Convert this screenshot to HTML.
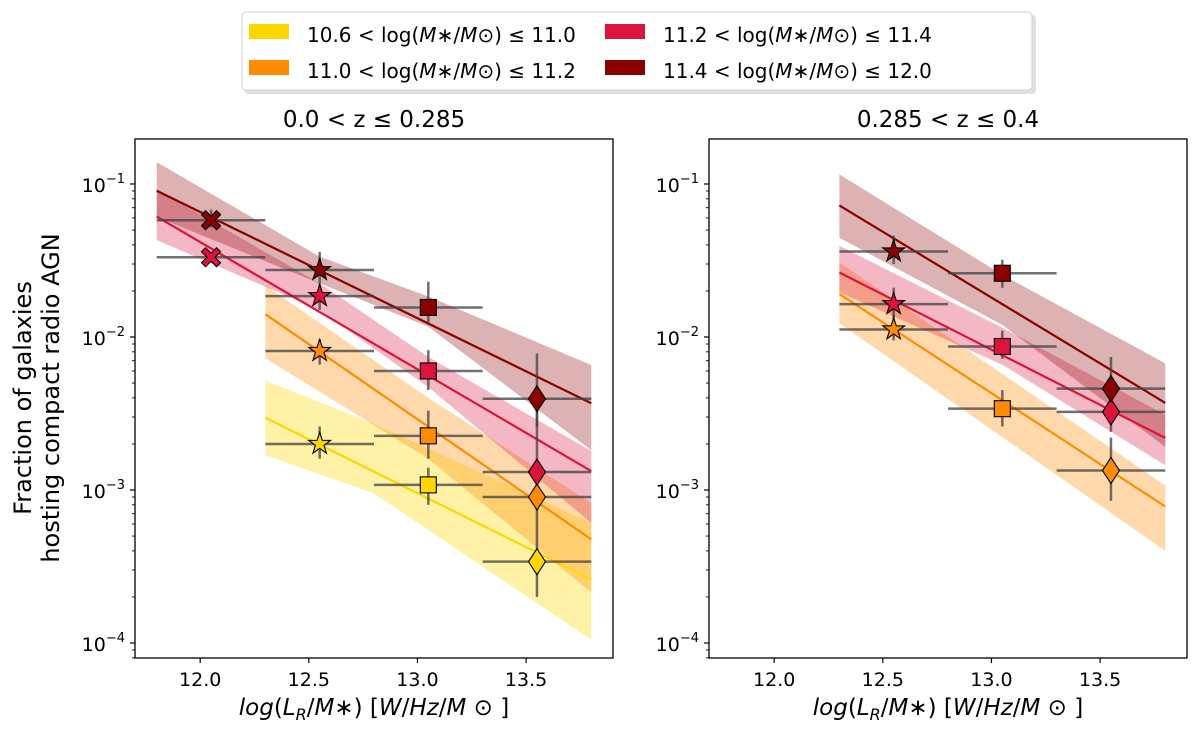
<!DOCTYPE html>
<html><head><meta charset="utf-8">
<style>
body{margin:0;background:#fff;}
svg text{font-family:"DejaVu Sans","Liberation Sans",sans-serif;fill:#000;}
</style></head>
<body>
<svg id="chart" width="1200" height="738" xmlns="http://www.w3.org/2000/svg">
<g id="legend">
  <rect x="244" y="15" width="792" height="79" rx="4" fill="#ccc" opacity="0.6"/>
  <rect x="242" y="12" width="790" height="78" rx="4" fill="#fff" stroke="#d0d0d0"/>
  <g><rect x="249" y="24" width="40" height="15" fill="#FFD700"/><text x="307" y="42" font-size="20">10.6 &lt; log(<tspan font-style="italic">M</tspan>∗/<tspan font-style="italic">M</tspan>⊙) ≤ 11.0</text></g>
  <g><rect x="249" y="60" width="40" height="15" fill="#FF8C00"/><text x="307" y="78" font-size="20">11.0 &lt; log(<tspan font-style="italic">M</tspan>∗/<tspan font-style="italic">M</tspan>⊙) ≤ 11.2</text></g>
  <g><rect x="605" y="24" width="40" height="15" fill="#DC143C"/><text x="663" y="42" font-size="20">11.2 &lt; log(<tspan font-style="italic">M</tspan>∗/<tspan font-style="italic">M</tspan>⊙) ≤ 11.4</text></g>
  <g><rect x="605" y="60" width="40" height="15" fill="#8B0000"/><text x="663" y="78" font-size="20">11.4 &lt; log(<tspan font-style="italic">M</tspan>∗/<tspan font-style="italic">M</tspan>⊙) ≤ 12.0</text></g>
</g>
<text transform="translate(31,398) rotate(-90)" text-anchor="middle" font-size="24">Fraction of galaxies</text>
<text transform="translate(59,398) rotate(-90)" text-anchor="middle" font-size="24">hosting compact radio AGN</text>
</svg>
<script>
const pointX = [12.05, 12.55, 13.05, 13.55];
const markerShapes = ['x', 'star', 'square', 'diamond'];
const colors = {yellow:'#FFD700', orange:'#FF8C00', crimson:'#DC143C', darkred:'#8B0000'};

// LEFT PANEL (0.0 < z <= 0.285)
const L_yellow_vals = [null, 0.0020, 0.00108, 0.00034];
const L_yellow_lo   = [null, 0.0016, 0.0008, 0.0002];
const L_yellow_hi   = [null, 0.0026, 0.0014, 0.0005];
const L_orange_vals = [null, 0.0081, 0.00226, 0.00090];
const L_orange_lo   = [null, 0.0066, 0.0016, 0.0005];
const L_orange_hi   = [null, 0.0097, 0.0033, 0.0013];
const L_crimson_vals = [0.0332, 0.0185, 0.0060, 0.00131];
const L_crimson_lo   = [0.031, 0.015, 0.0045, 0.0009];
const L_crimson_hi   = [0.036, 0.023, 0.0082, 0.0040];
const L_darkred_vals = [0.058, 0.0274, 0.0156, 0.00395];
const L_darkred_lo   = [0.052, 0.023, 0.0125, 0.0026];
const L_darkred_hi   = [0.068, 0.036, 0.023, 0.0078];
// fit lines (endpoints) and bands
const L_yellow_lineX = [12.3, 13.8];
const L_yellow_line  = [0.00297, 0.00026];
const L_yellow_bandX = [12.3, 12.8, 13.8];
const L_yellow_bandLo = [0.00169, 0.00095, 0.000105];
const L_yellow_bandHi = [0.0052, 0.0027, 0.00061];
const L_orange_lineX = [12.3, 13.8];
const L_orange_line  = [0.0141, 0.000476];
const L_orange_bandX = [12.3, 13.05, 13.8];
const L_orange_bandLo = [0.00726, 0.0016, 0.000214];
const L_orange_bandHi = [0.0217, 0.0040, 0.00082];
const L_crimson_lineX = [11.8, 13.8];
const L_crimson_line  = [0.0612, 0.00133];
const L_crimson_bandX = [11.8, 12.55, 13.05, 13.8];
const L_crimson_bandLo = [0.043, 0.015, 0.0047, 0.00061];
const L_crimson_bandHi = [0.092, 0.0224, 0.0074, 0.0018];
const L_darkred_lineX = [11.8, 13.8];
const L_darkred_line  = [0.0904, 0.00369];
const L_darkred_bandX = [11.8, 12.55, 13.05, 13.8];
const L_darkred_bandLo = [0.061, 0.0224, 0.0117, 0.00182];
const L_darkred_bandHi = [0.139, 0.0335, 0.0184, 0.00656];

// RIGHT PANEL (0.285 < z <= 0.4)
const R_orange_vals = [null, 0.0112, 0.0034, 0.00134];
const R_orange_lo   = [null, 0.0095, 0.0026, 0.00085];
const R_orange_hi   = [null, 0.014, 0.0045, 0.0022];
const R_crimson_vals = [null, 0.0164, 0.00867, 0.00324];
const R_crimson_lo   = [null, 0.0135, 0.0072, 0.0024];
const R_crimson_hi   = [null, 0.021, 0.011, 0.0052];
const R_darkred_vals = [null, 0.0362, 0.0261, 0.0046];
const R_darkred_lo   = [null, 0.030, 0.021, 0.0033];
const R_darkred_hi   = [null, 0.046, 0.032, 0.0074];
const R_orange_lineX = [12.3, 13.8];
const R_orange_line  = [0.0191, 0.00078];
const R_orange_bandX = [12.3, 13.8];
const R_orange_bandLo = [0.0123, 0.00040];
const R_orange_bandHi = [0.0308, 0.00107];
const R_crimson_lineX = [12.3, 13.8];
const R_crimson_line  = [0.0264, 0.00219];
const R_crimson_bandX = [12.3, 13.05, 13.8];
const R_crimson_bandLo = [0.0196, 0.0066, 0.00145];
const R_crimson_bandHi = [0.0395, 0.0115, 0.0031];
const R_darkred_lineX = [12.3, 13.8];
const R_darkred_line  = [0.0724, 0.00371];
const R_darkred_bandX = [12.3, 13.05, 13.8];
const R_darkred_bandLo = [0.0445, 0.0120, 0.00191];
const R_darkred_bandHi = [0.1156, 0.0255, 0.00673];

const xTicks = [12.0, 12.5, 13.0, 13.5];
const xTickLabels = ['12.0', '12.5', '13.0', '13.5'];
const yTickExps = [-1, -2, -3, -4];

const NS = 'http://www.w3.org/2000/svg';
const svg = document.getElementById('chart');
function mk(tag, attrs, parent){const e=document.createElementNS(NS,tag);for(const k in attrs)e.setAttribute(k,attrs[k]);(parent||svg).appendChild(e);return e;}

const XMIN=11.7, XMAX=13.9, YTOP=139, YBOT=658, Y1=184, DEC=153;
function makeScales(left,right){
  return {
    x: v => left + (v - XMIN) / (XMAX - XMIN) * (right - left),
    y: v => Y1 + (-1 - Math.log10(v)) * DEC
  };
}

function drawPanel(left,right,title,series,name){
  const s = makeScales(left,right);
  const g = mk('g',{});
  
  
  const clipId = name+'-clip';
  const cp = mk('clipPath',{id:clipId},g); mk('rect',{x:left,y:YTOP,width:right-left,height:YBOT-YTOP},cp);
  const plot = mk('g',{'clip-path':'url(#'+clipId+')'},g);
  series.forEach(se=>{
    let d='';
    se.bandX.forEach((x,i)=>{d+=(i?'L':'M')+s.x(x)+','+s.y(se.bandHi[i]);});
    for(let i=se.bandX.length-1;i>=0;i--) d+='L'+s.x(se.bandX[i])+','+s.y(se.bandLo[i]);
    const b = mk('path',{d:d+'Z',fill:se.color,'fill-opacity':se.alpha},plot);
    
    
  });
  series.forEach(se=>{
    const pts = se.lineX.map((x,i)=>s.x(x)+','+s.y(se.line[i])).join(' ');
    const l = mk('polyline',{points:pts,fill:'none',stroke:se.color,'stroke-width':2.2},plot);
    
    
  });
  series.forEach(se=>{
    se.vals.forEach((v,i)=>{
      if(v==null) return;
      const cx=s.x(pointX[i]), cy=s.y(v);
      const eb = mk('g',{stroke:'#404040','stroke-opacity':0.75,'stroke-width':2.5},plot);
      
      
      mk('line',{x1:s.x(pointX[i]-0.25),x2:s.x(pointX[i]+0.25),y1:cy,y2:cy},eb);
      mk('line',{x1:cx,x2:cx,y1:s.y(se.lo[i]),y2:s.y(se.hi[i])},eb);
    });
  });
  series.forEach(se=>{
    se.vals.forEach((v,i)=>{
      if(v==null) return;
      const cx=s.x(pointX[i]), cy=s.y(v);
      const sh=markerShapes[i]; let m;
      const at={fill:se.color,stroke:'#000','stroke-width':1.1};
      if(sh==='square') m=mk('rect',Object.assign({x:cx-8,y:cy-8,width:16,height:16},at),plot);
      else if(sh==='diamond') m=mk('path',Object.assign({d:`M${cx},${cy-13}L${cx+8.5},${cy}L${cx},${cy+13}L${cx-8.5},${cy}Z`},at),plot);
      else if(sh==='star'){let d='';for(let k=0;k<10;k++){const r=k%2?4.5:11.5,a=-Math.PI/2+k*Math.PI/5;d+=(k?'L':'M')+(cx+r*Math.cos(a))+','+(cy+r*Math.sin(a));}m=mk('path',Object.assign({d:d+'Z'},at),plot);}
      else {const a=4,b=9.5;m=mk('path',Object.assign({d:`M${cx-b+a},${cy-b}L${cx},${cy-a}L${cx+b-a},${cy-b}L${cx+b},${cy-b+a}L${cx+a},${cy}L${cx+b},${cy+b-a}L${cx+b-a},${cy+b}L${cx},${cy+a}L${cx-b+a},${cy+b}L${cx-b},${cy+b-a}L${cx-a},${cy}L${cx-b},${cy-b+a}Z`},at),plot);}
      
      
    });
  });
  const fr = mk('rect',{x:left,y:YTOP,width:right-left,height:YBOT-YTOP,fill:'none',stroke:'#000','stroke-width':1.3},g);
  
  
  xTicks.forEach((t,i)=>{
    const x=s.x(t);
    mk('line',{x1:x,x2:x,y1:YBOT,y2:YBOT+5,stroke:'#000','stroke-width':1.2},g);
    const tl = mk('text',{x:x,y:YBOT+28,'text-anchor':'middle','font-size':19},g);
    tl.textContent=xTickLabels[i];
    
    
  });
  yTickExps.forEach(e=>{
    const y=s.y(Math.pow(10,e));
    mk('line',{x1:left-5,x2:left,y1:y,y2:y,stroke:'#000','stroke-width':1.2},g);
    const tl = mk('text',{x:left-10,y:y+8,'text-anchor':'end','font-size':19},g);
    
    
    tl.innerHTML='10<tspan dy="-9" font-size="13">−'+(-e)+'</tspan>';
  });
  for(let e=-5;e<=0;e++){for(let k=2;k<=9;k++){const v=k*Math.pow(10,e);const y=s.y(v);if(y<YTOP||y>YBOT)continue;mk('line',{x1:left-3,x2:left,y1:y,y2:y,stroke:'#000','stroke-width':0.9},g);}}
  const tt = mk('text',{x:(left+right)/2,y:127,'text-anchor':'middle','font-size':23},g);
  tt.innerHTML=title;
  
  
  const xl = mk('text',{x:(left+right)/2,y:715,'text-anchor':'middle','font-size':23},g);
  xl.innerHTML='<tspan font-style="italic">log</tspan>(<tspan font-style="italic">L</tspan><tspan font-style="italic" font-size="16" dy="5">R</tspan><tspan dy="-5">/</tspan><tspan font-style="italic">M</tspan>∗) [<tspan font-style="italic">W</tspan>/<tspan font-style="italic">Hz</tspan>/<tspan font-style="italic">M</tspan> ⊙ ]';
  
  
}

drawPanel(135,613,'0.0 &lt; z ≤ 0.285',[
  {key:'yellow',color:colors.yellow,alpha:0.35,vals:L_yellow_vals,lo:L_yellow_lo,hi:L_yellow_hi,lineX:L_yellow_lineX,line:L_yellow_line,bandX:L_yellow_bandX,bandLo:L_yellow_bandLo,bandHi:L_yellow_bandHi},
  {key:'orange',color:colors.orange,alpha:0.33,vals:L_orange_vals,lo:L_orange_lo,hi:L_orange_hi,lineX:L_orange_lineX,line:L_orange_line,bandX:L_orange_bandX,bandLo:L_orange_bandLo,bandHi:L_orange_bandHi},
  {key:'crimson',color:colors.crimson,alpha:0.3,vals:L_crimson_vals,lo:L_crimson_lo,hi:L_crimson_hi,lineX:L_crimson_lineX,line:L_crimson_line,bandX:L_crimson_bandX,bandLo:L_crimson_bandLo,bandHi:L_crimson_bandHi},
  {key:'darkred',color:colors.darkred,alpha:0.3,vals:L_darkred_vals,lo:L_darkred_lo,hi:L_darkred_hi,lineX:L_darkred_lineX,line:L_darkred_line,bandX:L_darkred_bandX,bandLo:L_darkred_bandLo,bandHi:L_darkred_bandHi}
],'left-panel');

drawPanel(709,1187,'0.285 &lt; z ≤ 0.4',[
  {key:'orange',color:colors.orange,alpha:0.33,vals:R_orange_vals,lo:R_orange_lo,hi:R_orange_hi,lineX:R_orange_lineX,line:R_orange_line,bandX:R_orange_bandX,bandLo:R_orange_bandLo,bandHi:R_orange_bandHi},
  {key:'crimson',color:colors.crimson,alpha:0.3,vals:R_crimson_vals,lo:R_crimson_lo,hi:R_crimson_hi,lineX:R_crimson_lineX,line:R_crimson_line,bandX:R_crimson_bandX,bandLo:R_crimson_bandLo,bandHi:R_crimson_bandHi},
  {key:'darkred',color:colors.darkred,alpha:0.3,vals:R_darkred_vals,lo:R_darkred_lo,hi:R_darkred_hi,lineX:R_darkred_lineX,line:R_darkred_line,bandX:R_darkred_bandX,bandLo:R_darkred_bandLo,bandHi:R_darkred_bandHi}
],'right-panel');
</script>
</body></html>
